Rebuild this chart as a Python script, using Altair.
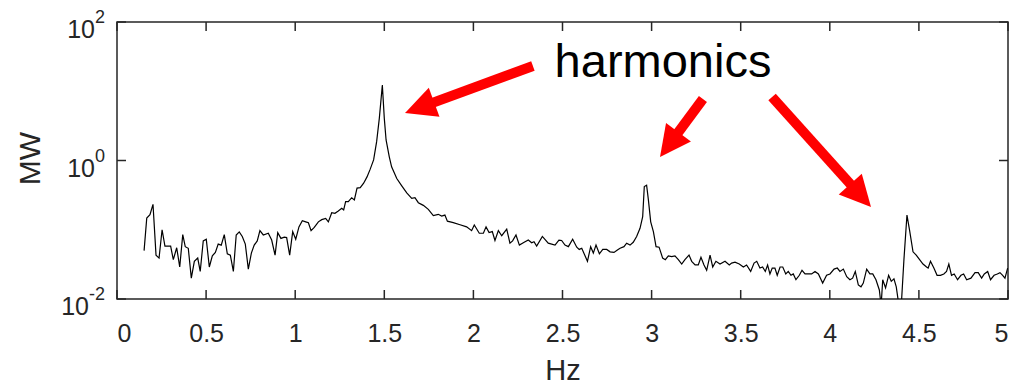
import altair as alt
import pandas as pd

# ---- spectrum data (Hz, MW) ----
freq = [0.152, 0.167, 0.185, 0.202, 0.219, 0.236, 0.253, 0.269, 0.286, 0.301,
        0.316, 0.335, 0.352, 0.369, 0.383, 0.400, 0.417, 0.434, 0.453, 0.467,
        0.484, 0.501, 0.518, 0.535, 0.552, 0.568, 0.585, 0.602, 0.619, 0.636,
        0.653, 0.669, 0.686, 0.703, 0.720, 0.737, 0.754, 0.770, 0.787, 0.802,
        0.821, 0.849, 0.868, 0.887, 0.902, 0.920, 0.939, 0.952, 0.969, 0.986,
        1.003, 1.021, 1.040, 1.059, 1.074, 1.089, 1.107, 1.130, 1.149, 1.171,
        1.186, 1.205, 1.223, 1.242, 1.261, 1.272, 1.283, 1.298, 1.317, 1.332,
        1.347, 1.365, 1.384, 1.403, 1.421, 1.440, 1.457, 1.472, 1.489, 1.500,
        1.510, 1.528, 1.541, 1.570, 1.598, 1.626, 1.654, 1.672, 1.691, 1.719,
        1.747, 1.775, 1.803, 1.822, 1.840, 1.854, 1.887, 1.925, 1.962, 1.990,
        2.005, 2.033, 2.056, 2.071, 2.088, 2.106, 2.121, 2.140, 2.159, 2.187,
        2.205, 2.220, 2.239, 2.258, 2.280, 2.308, 2.327, 2.340, 2.355, 2.387,
        2.420, 2.458, 2.480, 2.495, 2.514, 2.533, 2.557, 2.580, 2.594, 2.608,
        2.640, 2.658, 2.673, 2.688, 2.707, 2.726, 2.748, 2.767, 2.789, 2.808,
        2.823, 2.845, 2.860, 2.879, 2.897, 2.916, 2.935, 2.950, 2.959, 2.972,
        2.982, 2.995, 3.010, 3.025, 3.042, 3.062, 3.077, 3.094, 3.113, 3.131,
        3.150, 3.169, 3.187, 3.210, 3.225, 3.244, 3.262, 3.277, 3.294, 3.309,
        3.328, 3.343, 3.361, 3.384, 3.412, 3.436, 3.449, 3.468, 3.492, 3.515,
        3.533, 3.556, 3.575, 3.590, 3.608, 3.623, 3.638, 3.651, 3.664, 3.677,
        3.692, 3.705, 3.721, 3.736, 3.753, 3.767, 3.782, 3.795, 3.810, 3.829,
        3.844, 3.861, 3.879, 3.898, 3.917, 3.936, 3.960, 3.982, 4.001, 4.024,
        4.042, 4.057, 4.076, 4.095, 4.113, 4.128, 4.143, 4.160, 4.175, 4.188,
        4.207, 4.225, 4.241, 4.259, 4.278, 4.288, 4.297, 4.313, 4.330, 4.345,
        4.360, 4.373, 4.388, 4.401, 4.416, 4.433, 4.448, 4.467, 4.485, 4.504,
        4.523, 4.543, 4.552, 4.565, 4.584, 4.602, 4.621, 4.640, 4.655, 4.668,
        4.683, 4.698, 4.717, 4.736, 4.751, 4.768, 4.792, 4.815, 4.833, 4.852,
        4.867, 4.886, 4.902, 4.922, 4.940, 4.955, 4.970, 4.983, 4.998]

power = [0.050, 0.148, 0.165, 0.233, 0.043, 0.039, 0.100, 0.058, 0.058, 0.058,
         0.037, 0.055, 0.029, 0.085, 0.057, 0.054, 0.020, 0.035, 0.039, 0.025,
         0.069, 0.073, 0.029, 0.042, 0.047, 0.062, 0.060, 0.085, 0.045, 0.043,
         0.025, 0.084, 0.093, 0.080, 0.062, 0.027, 0.046, 0.060, 0.069, 0.097,
         0.084, 0.089, 0.071, 0.043, 0.091, 0.075, 0.078, 0.077, 0.043, 0.094,
         0.073, 0.110, 0.135, 0.130, 0.126, 0.097, 0.108, 0.130, 0.140, 0.146,
         0.130, 0.176, 0.173, 0.187, 0.204, 0.193, 0.254, 0.254, 0.290, 0.270,
         0.400, 0.405, 0.470, 0.580, 0.750, 1.02, 1.87, 4.06, 12.3, 4.06,
         1.98, 1.13, 0.81, 0.55, 0.43, 0.34, 0.284, 0.290, 0.246, 0.225,
         0.197, 0.160, 0.167, 0.158, 0.163, 0.133, 0.127, 0.118, 0.110, 0.097,
         0.117, 0.089, 0.089, 0.110, 0.091, 0.094, 0.070, 0.097, 0.082, 0.102,
         0.064, 0.069, 0.084, 0.060, 0.065, 0.071, 0.065, 0.067, 0.058, 0.080,
         0.064, 0.060, 0.071, 0.070, 0.060, 0.057, 0.073, 0.056, 0.052, 0.054,
         0.035, 0.057, 0.046, 0.060, 0.045, 0.052, 0.052, 0.048, 0.047, 0.051,
         0.054, 0.057, 0.064, 0.060, 0.066, 0.080, 0.105, 0.155, 0.420, 0.440,
         0.270, 0.130, 0.094, 0.057, 0.056, 0.039, 0.037, 0.042, 0.041, 0.042,
         0.037, 0.032, 0.037, 0.043, 0.035, 0.031, 0.031, 0.040, 0.031, 0.026,
         0.043, 0.029, 0.035, 0.032, 0.035, 0.031, 0.033, 0.034, 0.032, 0.029,
         0.031, 0.025, 0.033, 0.035, 0.028, 0.029, 0.025, 0.031, 0.023, 0.028,
         0.028, 0.022, 0.029, 0.029, 0.023, 0.025, 0.022, 0.023, 0.019, 0.022,
         0.026, 0.023, 0.023, 0.023, 0.025, 0.023, 0.017, 0.022, 0.023, 0.027,
         0.028, 0.025, 0.027, 0.021, 0.019, 0.020, 0.025, 0.016, 0.015, 0.017,
         0.027, 0.023, 0.023, 0.019, 0.0135, 0.008, 0.019, 0.0145, 0.022, 0.018,
         0.0195, 0.015, 0.008, 0.008, 0.037, 0.163, 0.097, 0.048, 0.043, 0.037,
         0.032, 0.029, 0.028, 0.035, 0.028, 0.022, 0.022, 0.023, 0.025, 0.032,
         0.022, 0.023, 0.019, 0.022, 0.023, 0.019, 0.020, 0.024, 0.024, 0.020,
         0.023, 0.025, 0.019, 0.022, 0.023, 0.024, 0.022, 0.020, 0.028]

# ---- axis ticks / labels ----
x_ticks = [0, 0.5, 1, 1.5, 2, 2.5, 3, 3.5, 4, 4.5, 5]
y_ticks = [0.01, 1, 100]
y_exp = ["-2", "0", "2"]

# ---- annotation ----
ann_text = ["harmonics"]
ann_x = [3.064]
ann_y = [16.1]
arrow_x0 = [2.334, 3.288, 3.676]
arrow_y0 = [23.2, 7.73, 8.26]
arrow_x1 = [1.698, 3.099, 4.173]
arrow_y1 = [5.80, 1.697, 0.312]
arrow_angle = [249.8, 216.6, 138.0]

W, H = 891, 277
FONT = "Liberation Sans"
AX = "#262626"

df = pd.DataFrame({"f": freq, "p": power})
xt = pd.DataFrame({"t": x_ticks})
yt = pd.DataFrame({"v": y_ticks, "e": y_exp})
arr = pd.DataFrame({"x0": arrow_x0, "y0": arrow_y0, "x1": arrow_x1,
                    "y1": arrow_y1, "a": arrow_angle})
ann = pd.DataFrame({"x": ann_x, "y": ann_y, "t": ann_text})

xs = alt.Scale(domain=[0, 5], nice=False, zero=False)
ys = alt.Scale(type="log", domain=[0.01, 100], nice=False)

line = alt.Chart(df).mark_line(color="black", strokeWidth=1.2, clip=True).encode(
    x=alt.X("f:Q", scale=xs, axis=alt.Axis(
        values=x_ticks, format="~g", title="Hz", grid=False, domain=False,
        ticks=False, tickSize=0, labelPadding=22, labelFont=FONT, labelFontSize=25,
        labelColor=AX, titleFont=FONT, titleFontSize=29, titleFontWeight="normal",
        titleColor=AX, titleX=W / 2, titleY=71, titleBaseline="middle",
        titleAlign="center")),
    y=alt.Y("p:Q", scale=ys, axis=alt.Axis(
        values=y_ticks, labels=False, grid=False, domain=False, ticks=False,
        tickSize=0, title="MW", titleFont=FONT, titleFontSize=30,
        titleFontWeight="normal", titleColor=AX, titleX=-87, titleY=136,
        titleAngle=270, titleBaseline="middle", titleAlign="center")),
)

tick_style = dict(color=AX, strokeWidth=1.5)
bottom_ticks = alt.Chart(xt).mark_rule(**tick_style).encode(
    x=alt.X("t:Q", scale=xs), y=alt.value(H), y2=alt.value(H - 9))
top_ticks = alt.Chart(xt).mark_rule(**tick_style).encode(
    x=alt.X("t:Q", scale=xs), y=alt.value(0), y2=alt.value(9))
left_ticks = alt.Chart(yt).mark_rule(**tick_style).encode(
    y=alt.Y("v:Q", scale=ys), x=alt.value(0), x2=alt.value(9))
right_ticks = alt.Chart(yt).mark_rule(**tick_style).encode(
    y=alt.Y("v:Q", scale=ys), x=alt.value(W), x2=alt.value(W - 9))

exp_text = alt.Chart(yt).mark_text(
    align="right", baseline="middle", fontSize=18, font=FONT, color=AX, dy=-4
).encode(y=alt.Y("v:Q", scale=ys), x=alt.value(-12), text="e:N")

base_text = alt.Chart(yt).transform_calculate(
    bx="-12 - (length(datum.e) > 1 ? 16 : 10)"
).mark_text(
    align="right", baseline="middle", fontSize=25, font=FONT, color=AX, dy=8
).encode(y=alt.Y("v:Q", scale=ys), x=alt.X("bx:Q", scale=None, axis=None),
         text=alt.value("10"))

shaft = alt.Chart(arr).mark_rule(color="#ff0000", strokeWidth=10, strokeCap="butt").encode(
    x=alt.X("x0:Q", scale=xs), y=alt.Y("y0:Q", scale=ys), x2="x1:Q", y2="y1:Q")
head = alt.Chart(arr).mark_point(
    shape="M0,-1L-1,1L1,1Z", filled=True, color="#ff0000", size=961, opacity=1,
    strokeWidth=0
).encode(x=alt.X("x1:Q", scale=xs), y=alt.Y("y1:Q", scale=ys),
         angle=alt.Angle("a:Q", scale=None))

label = alt.Chart(ann).mark_text(
    fontSize=47, font=FONT, color="black", align="center", baseline="alphabetic"
).encode(x=alt.X("x:Q", scale=xs), y=alt.Y("y:Q", scale=ys), text="t:N")

chart = alt.layer(
    line, bottom_ticks, top_ticks, left_ticks, right_ticks,
    exp_text, base_text, shaft, head, label
).properties(
    width=W, height=H,
    padding={"left": 117, "top": 22, "right": 11, "bottom": 85},
    autosize=alt.AutoSizeParams(type="none"),
).configure_view(stroke=AX, strokeWidth=1.5)

chart.save("out.html", embed_options={"renderer": "svg", "actions": False})
